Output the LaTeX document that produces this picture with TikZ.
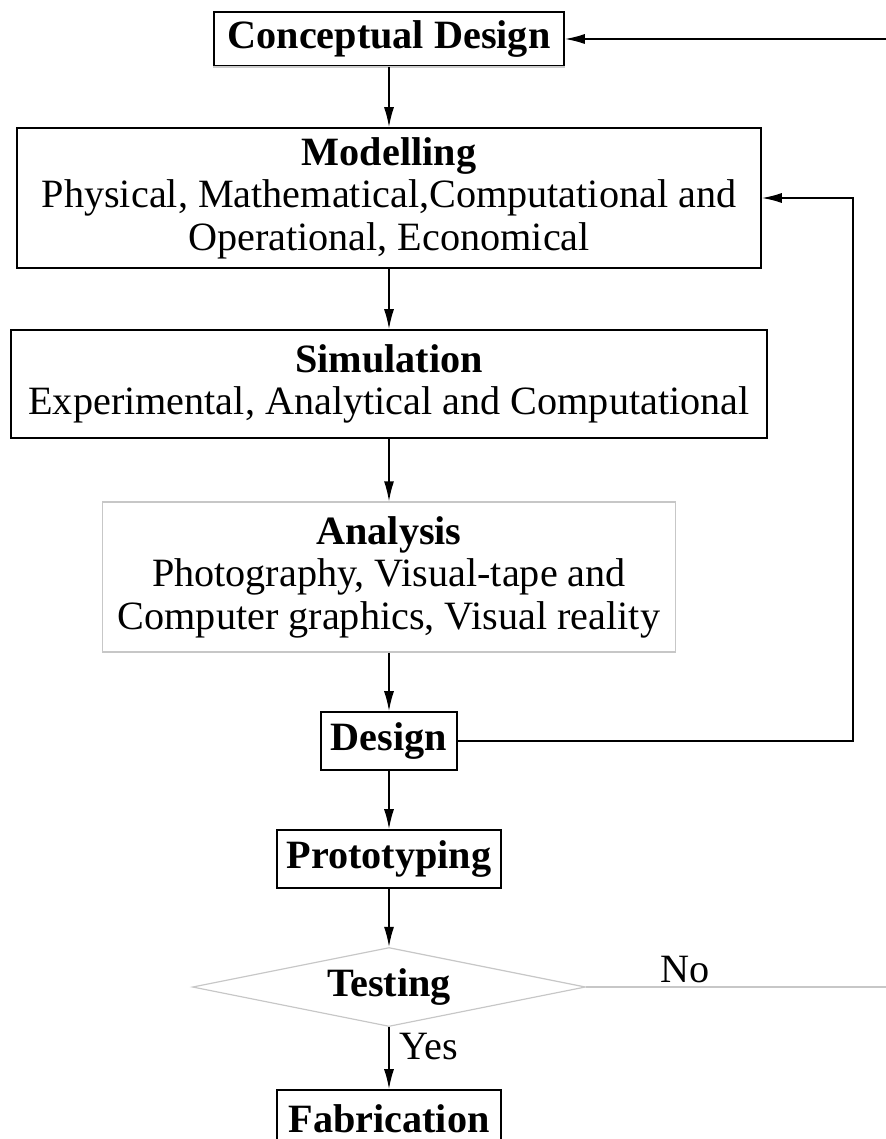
\documentclass[tikz,border=0pt]{standalone}
\usepackage{fontspec}
\setmainfont{Liberation Serif}
\usetikzlibrary{shapes.geometric}
\usetikzlibrary{arrows.meta}

\begin{document}
\begin{tikzpicture} [
    x=0.5pt, y=-0.5pt,
    every node/.style = {font=\fontsize{20.1}{21.3}\selectfont, align=center, inner sep=0pt},
    box/.style = {draw, line width=0.8pt},
    softbox/.style = {draw=black!22, line width=0.6pt},
    flow/.style = {-{Latex[length=10pt, width=5pt]}, line width=0.8pt}
]
    \useasboundingbox (0,0) rectangle (886,1139);
    \clip (0,0) rectangle (886,1139);

    \node [box, minimum width=175pt, minimum height=27pt] (concept) at (389,39) {\textbf{Conceptual Design}};
    \draw [black!20, line width=0.8pt] (concept.south west) -- (concept.south east);
    \node [box, minimum width=372pt, minimum height=70pt] (model) at (389,198)
        {\textbf{Modelling}\\ Physical, Mathematical,Computational and\\ Operational, Economical};
    \node [box, minimum width=378pt, minimum height=54pt] (sim) at (389,384)
        {\textbf{Simulation}\\ Experimental, Analytical and Computational};
    \node [softbox, minimum width=286.5pt, minimum height=75pt] (anal) at (389,577)
        {\textbf{Analysis}\\ Photography, Visual-tape and\\ Computer graphics, Visual reality};
    \node [box, minimum width=68pt, minimum height=29pt] (design) at (389,741) {\textbf{Design}};
    \node [box, minimum width=112pt, minimum height=29pt] (proto) at (389,859) {\textbf{Prototyping}};
    \node [diamond, softbox, aspect=5, minimum width=196.5pt, minimum height=39.5pt] (test) at (389,987) {\textbf{Testing}};
    \node [box, minimum width=112pt, minimum height=29pt] (fab) at (389,1119) {\textbf{Fabrication}};

    % main flow
    \draw [flow] (concept) -- (model);
    \draw [flow] (model) -- (sim);
    \draw [flow] (sim) -- (anal);
    \draw [flow] (anal) -- (design);
    \draw [flow] (design) -- (proto);
    \draw [flow] (proto) -- (test.north);
    \draw [flow] (test.south) -- node [right=5pt, pos=0.32] (yes) {Yes} (fab);

    % loops back
    \coordinate (inlet) at (886,39);
    \coordinate (back) at (853,741);
    \coordinate (noend) at (886,987);
    \draw [flow] (inlet) -- (concept.east);
    \draw [flow] (design.east) -- (back) |- (model.east);
    \draw [black!22, line width=0.6pt] (test.east) -- node [above=2pt, pos=0.33, black] (no) {No} (noend);
\end{tikzpicture}
\end{document}
